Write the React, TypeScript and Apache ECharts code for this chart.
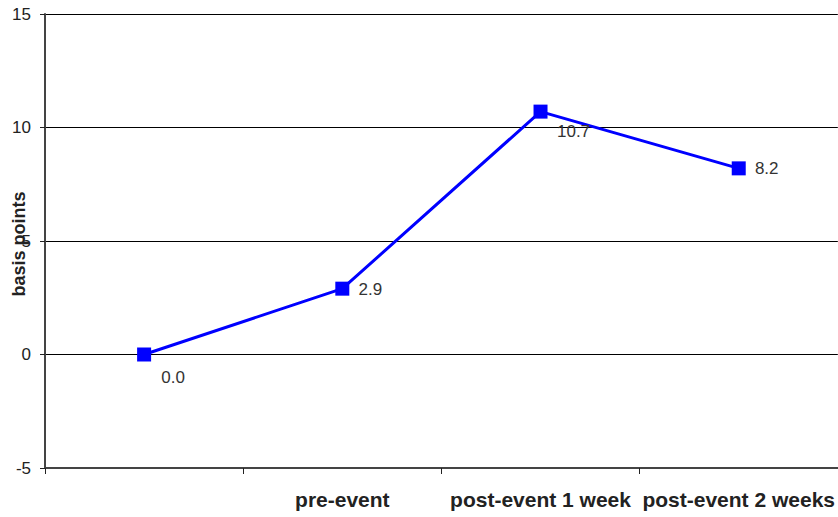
import React, { useEffect, useRef } from "react";
import * as echarts from "echarts";

const categories = ["", "pre-event", "post-event 1 week", "post-event 2 weeks"];
const values = [0.0, 2.9, 10.7, 8.2];
const labelOffsets: [number, number][] = [[29, 23], [28, 1], [33, 20], [28, 0]];
const yMin = -5;
const yMax = 15;
const yInterval = 5;

export default function App() {
  const ref = useRef<HTMLDivElement>(null);
  useEffect(() => {
    if (!ref.current) return;
    const chart = echarts.init(ref.current, undefined, { renderer: "svg" });
    chart.setOption({
      animation: false,
      backgroundColor: "#ffffff",
      textStyle: { fontFamily: "Liberation Sans, Arial, sans-serif" },
      grid: { left: 45, right: 0, top: 14, bottom: 49, containLabel: false },
      graphic: [
        {
          type: "text",
          x: 19,
          y: 244,
          rotation: Math.PI / 2,
          style: {
            text: "basis points",
            fontSize: 18,
            fontWeight: "bold",
            fill: "#222",
            align: "center",
            verticalAlign: "middle",
            fontFamily: "Liberation Sans, Arial, sans-serif",
          },
        },
      ],
      xAxis: {
        type: "category",
        data: categories,
        boundaryGap: true,
        axisLine: { onZero: false, lineStyle: { color: "#444", width: 2 } },
        axisTick: { show: true, length: 6, lineStyle: { color: "#222", width: 1 } },
        axisLabel: {
          fontSize: 21,
          fontWeight: "bold",
          color: "#222",
          margin: 21,
          interval: 0,
        },
        splitLine: { show: false },
      },
      yAxis: {
        type: "value",
        min: yMin,
        max: yMax,
        interval: yInterval,
        axisLine: { show: true, lineStyle: { color: "#444", width: 2 } },
        axisTick: { show: true, length: 5, lineStyle: { color: "#222", width: 1 } },
        axisLabel: { fontSize: 17, color: "#222", margin: 14 },
        splitLine: { show: true, lineStyle: { color: "#000", width: 1 } },
      },
      series: [
        {
          type: "line",
          data: values.map((v, i) => ({
            value: v,
            label: {
              show: true,
              position: "inside",
              align: "center",
              verticalAlign: "middle",
              offset: labelOffsets[i],
              formatter: (p: any) => Number(p.value).toFixed(1),
              fontSize: 17,
              color: "#333",
            },
          })),
          symbol: "rect",
          symbolSize: 14,
          itemStyle: { color: "#0000ff" },
          lineStyle: { color: "#0000ff", width: 3 },
          z: 5,
        },
      ],
    });
    return () => chart.dispose();
  }, []);
  return (
    <div
      ref={ref}
      style={{ position: "absolute", left: 0, top: 0, width: 838, height: 517 }}
    />
  );
}
